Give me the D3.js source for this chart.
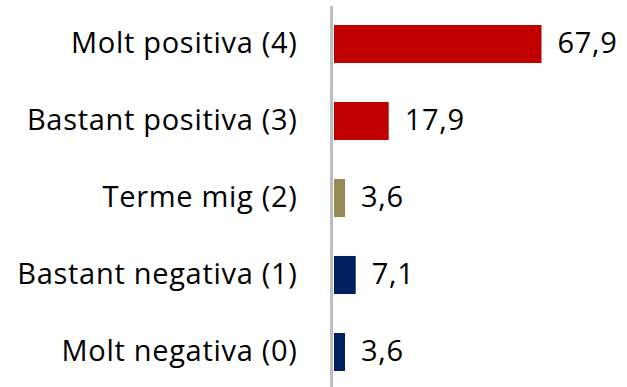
<!DOCTYPE html>
<html>
<head>
<meta charset="utf-8">
<script src="https://cdn.jsdelivr.net/npm/d3@7"></script>
<style>
  html, body { margin: 0; padding: 0; background: #ffffff; }
  svg { display: block; }
</style>
</head>
<body>
<div id="chart"></div>
<script>
// Response distribution, top to bottom
const categories = ["Molt positiva (4)", "Bastant positiva (3)", "Terme mig (2)", "Bastant negativa (1)", "Molt negativa (0)"];
const values = [67.9, 17.9, 3.6, 7.1, 3.6];
const barColors = ["#c00000", "#c00000", "#948a54", "#002060", "#002060"];

const width = 627, height = 387;
const fontFamily = "'Open Sans', sans-serif";
const fontSize = 29;
const letterSpacing = 0.7;

const svg = d3.select("#chart").append("svg")
  .attr("width", width)
  .attr("height", height);

const x = d3.scaleLinear().domain([0, 70]).range([334, 547.9]);
const y = d3.scaleBand().domain(categories).range([5.5, 390.5]).paddingInner(0.506).paddingOuter(0.253);

const data = categories.map((c, i) => ({ cat: c, value: values[i], color: barColors[i] }));

// Bars
svg.append("g").selectAll("rect").data(data).join("rect")
  .attr("x", x(0))
  .attr("y", d => y(d.cat))
  .attr("width", d => x(d.value) - x(0))
  .attr("height", y.bandwidth())
  .attr("fill", d => d.color);

// Category axis (vertical line with labels to its left)
const axis = d3.axisLeft(y).tickSize(0).tickPadding(34);
const gAxis = svg.append("g").attr("transform", "translate(331.5,0)").call(axis);
gAxis.select(".domain").remove();
gAxis.selectAll("text")
  .attr("font-family", fontFamily)
  .attr("font-size", fontSize)
  .attr("letter-spacing", letterSpacing)
  .attr("fill", "#000");

svg.append("line")
  .attr("x1", 331.5).attr("x2", 331.5)
  .attr("y1", 6).attr("y2", height)
  .attr("stroke", "#bfbfbf")
  .attr("stroke-width", 3);

// Value labels
const fmt = v => d3.format(".1f")(v).replace(".", ",");
svg.append("g").selectAll("text").data(data).join("text")
  .attr("x", d => x(d.value) + 16)
  .attr("y", d => y(d.cat) + y.bandwidth() / 2)
  .attr("dy", "0.32em")
  .attr("font-family", fontFamily)
  .attr("font-size", fontSize)
  .attr("letter-spacing", letterSpacing)
  .attr("fill", "#000")
  .text(d => fmt(d.value));
</script>
</body>
</html>
